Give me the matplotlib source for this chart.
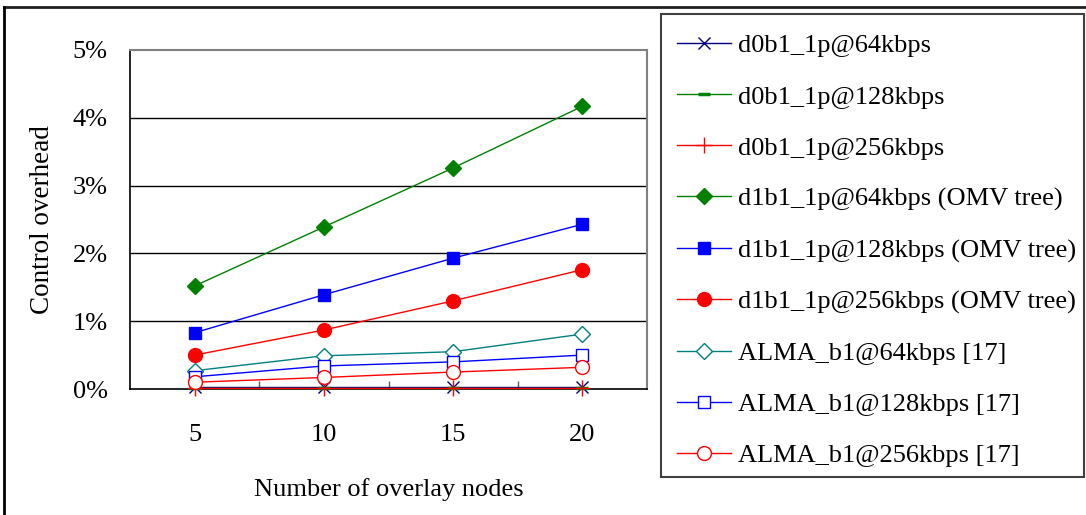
import matplotlib
matplotlib.use("Agg")
import matplotlib.pyplot as plt
from matplotlib.lines import Line2D
from matplotlib.patches import Rectangle

categories = ["5", "10", "15", "20"]
yticklabels = ["0%", "1%", "2%", "3%", "4%", "5%"]

d0b1_64 = [0.03, 0.03, 0.03, 0.03]
d0b1_128 = [0.02, 0.02, 0.02, 0.02]
d0b1_256 = [0.01, 0.01, 0.01, 0.01]
d1b1_64 = [1.52, 2.39, 3.26, 4.17]
d1b1_128 = [0.83, 1.39, 1.93, 2.43]
d1b1_256 = [0.50, 0.87, 1.30, 1.76]
alma_64 = [0.27, 0.49, 0.55, 0.81]
alma_128 = [0.18, 0.34, 0.40, 0.50]
alma_256 = [0.10, 0.17, 0.25, 0.32]

labels = ["d0b1_1p@64kbps", "d0b1_1p@128kbps", "d0b1_1p@256kbps",
          "d1b1_1p@64kbps (OMV tree)", "d1b1_1p@128kbps (OMV tree)",
          "d1b1_1p@256kbps (OMV tree)", "ALMA_b1@64kbps [17]",
          "ALMA_b1@128kbps [17]", "ALMA_b1@256kbps [17]"]

plt.rcParams['font.family'] = ['Liberation Serif', 'DejaVu Serif']
FS = 19

W, H = 1086, 515
fig = plt.figure(figsize=(W / 100, H / 100), dpi=100)
ax = fig.add_axes([130 / W, (H - 389) / H, 517 / W, 339 / H])

x = list(range(len(categories)))
styles = [
    (d0b1_64, dict(color='#000080', marker='x', markersize=9, mew=1.0, mfc='none')),
    (d0b1_128, dict(color='#008000', marker='_', markersize=9, mew=2.5)),
    (d0b1_256, dict(color='#ff0000', marker='+', markersize=11, mew=1.0)),
    (d1b1_64, dict(color='#008000', marker='D', markersize=8, mfc='#008000', mec='#008000')),
    (d1b1_128, dict(color='#0000ff', marker='s', markersize=9, mfc='#0000ff', mec='#0000ff')),
    (d1b1_256, dict(color='#ff0000', marker='o', markersize=10, mfc='#ff0000', mec='#ff0000')),
    (alma_64, dict(color='#008080', marker='D', markersize=8, mfc='white', mew=1.0)),
    (alma_128, dict(color='#0000ff', marker='s', markersize=9, mfc='white', mew=1.0)),
    (alma_256, dict(color='#ff0000', marker='o', markersize=10, mfc='white', mew=1.0)),
]
handles = []
for (vals, st), lab in zip(styles, labels):
    h, = ax.plot(x, vals, lw=1.0, clip_on=False, label=lab, zorder=3, **st)
    handles.append(h)

ax.set_xlim(-0.5, 3.5)
ax.set_ylim(0, 5)
ax.set_xticks(x)
ax.set_xticklabels(categories)
ax.set_xticks([0.5, 1.5, 2.5], minor=True)
ax.tick_params(axis='x', which='major', length=0, pad=25, labelsize=FS)
ax.tick_params(axis='x', which='minor', direction='in', length=6, width=1, color='#606060')
ax.set_yticks(range(6))
ax.set_yticklabels(yticklabels)
ax.tick_params(axis='y', length=0, pad=16, labelsize=FS)
for yv in range(1, 5):
    ax.axhline(yv, color='black', lw=1.0, zorder=1)

for s in ['left', 'bottom']:
    ax.spines[s].set_color('black')
    ax.spines[s].set_linewidth(1.2)
for s in ['top', 'right']:
    ax.spines[s].set_color('#808080')
    ax.spines[s].set_linewidth(1.5)

ax.set_xlabel("Number of overlay nodes", fontsize=FS, labelpad=23)
ax.set_ylabel("Control overhead", fontsize=FS + 0.5, labelpad=13)

# legend box
fig.patches.append(Rectangle((661 / W, (H - 477) / H), (1084 - 661) / W, (477 - 14) / H,
                             transform=fig.transFigure, fill=False, ec='#404040', lw=1.5))
leg = fig.legend(handles=handles, loc='upper left', bbox_to_anchor=(677 / W, 1 - 34 / H),
                 frameon=False, fontsize=FS, handlelength=2.05, handletextpad=0.27,
                 labelspacing=1.045, borderaxespad=0, borderpad=0)

# outer frame
fig.add_artist(Line2D([4 / W, 1], [1 - 7 / H, 1 - 7 / H], transform=fig.transFigure, color='#202020', lw=2))
fig.add_artist(Line2D([4 / W, 4 / W], [0, 1 - 7 / H], transform=fig.transFigure, color='black', lw=2))

fig.savefig("out.png", dpi=100)
